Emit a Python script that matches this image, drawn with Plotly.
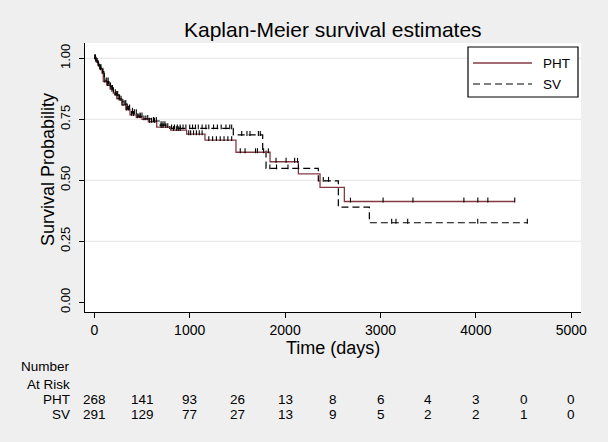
import plotly.graph_objects as go

# ---------------- data ----------------
pht_time = [0, 20, 40, 60, 80, 94, 130, 165, 199, 235, 287, 330, 374, 440, 500, 566,
            654, 800, 968, 1160, 1485, 1842, 2139, 2366, 2621, 4407]
pht_surv = [1.0, 0.985, 0.97, 0.955, 0.94, 0.905, 0.89, 0.875, 0.857, 0.835, 0.809, 0.79,
            0.768, 0.758, 0.75, 0.74, 0.718, 0.706, 0.689, 0.665, 0.615, 0.576, 0.526,
            0.471, 0.413, 0.413]
pht_censor = [5, 12, 30, 45, 65, 88, 110, 140, 155, 175, 190, 220, 250, 265, 300, 340, 360,
              390, 410, 450, 480, 520, 540, 580, 600, 630, 700, 720, 750, 770, 830, 860,
              880, 900, 990, 1010, 1040, 1070, 1100, 1130, 1200, 1240, 1280, 1320, 1360,
              1400, 1440, 1530, 1580, 1690, 1710, 1775, 1824, 1905, 2010, 2100, 2130,
              2685, 3027, 3340, 3874, 4020, 4125, 4407]

sv_time = [0, 15, 35, 55, 75, 100, 120, 150, 185, 215, 260, 300, 345, 400, 460, 520, 600,
           680, 790, 1457, 1765, 1800, 2348, 2558, 2883, 4539]
sv_surv = [1.0, 0.99, 0.975, 0.96, 0.945, 0.925, 0.905, 0.885, 0.865, 0.85, 0.83, 0.812,
           0.795, 0.775, 0.762, 0.752, 0.743, 0.726, 0.713, 0.686, 0.62, 0.549, 0.498,
           0.39, 0.326, 0.326]
sv_censor = [8, 18, 40, 60, 70, 90, 105, 130, 145, 170, 200, 230, 245, 280, 320, 330, 370,
             420, 440, 480, 500, 560, 620, 650, 700, 720, 740, 810, 840, 870, 900, 930,
             960, 1000, 1030, 1060, 1090, 1130, 1170, 1200, 1250, 1290, 1330, 1380, 1420,
             1440, 1545, 1600, 1632, 1720, 1740, 1840, 1910, 2030, 2140, 2400, 2455,
             3117, 3162, 3285, 4019, 4539]

risk_times = [0, 500, 1000, 1500, 2000, 2500, 3000, 3500, 4000, 4500, 5000]
risk_pht = [268, 141, 93, 26, 13, 8, 6, 4, 3, 0, 0]
risk_sv = [291, 129, 77, 27, 13, 9, 5, 2, 2, 1, 0]

x_ticks = [0, 1000, 2000, 3000, 4000, 5000]
y_ticks = [0.0, 0.25, 0.5, 0.75, 1.0]
y_ticklabels = ["0.00", "0.25", "0.50", "0.75", "1.00"]
grid_vals = [0.25, 0.5, 0.75, 1.0]

# ---------------- styling ----------------
FONT = "Liberation Sans, Arial, sans-serif"
PHT_COLOR = "#843a44"
BG = "#efefef"
W, H = 608, 442
ML, MR, MT, MB = 85, 27, 43, 130
PW, PH = W - ML - MR, H - MT - MB


def surv_at(times, surv, t):
    val = surv[0]
    for ti, si in zip(times, surv):
        if ti <= t:
            val = si
        else:
            break
    return val


def censor_segments(times, surv, cens):
    xs, ys = [], []
    for c in cens:
        s = surv_at(times, surv, c)
        xs += [c, c, None]
        ys += [s - 0.004, s + 0.016, None]
    return xs, ys


def py(px):  # pixel y -> paper y
    return (H - MB - px) / PH


def pxx(px):  # pixel x -> paper x
    return (px - ML) / PW


fig = go.Figure()
fig.add_trace(go.Scatter(x=sv_time, y=sv_surv, mode="lines", line_shape="hv",
                         line=dict(color="black", width=1.2, dash="7px,4px"),
                         name="SV", hoverinfo="skip"))
fig.add_trace(go.Scatter(x=pht_time, y=pht_surv, mode="lines", line_shape="hv",
                         line=dict(color=PHT_COLOR, width=1.3), name="PHT", hoverinfo="skip"))
for times, surv, cens in [(pht_time, pht_surv, pht_censor), (sv_time, sv_surv, sv_censor)]:
    cx, cy = censor_segments(times, surv, cens)
    fig.add_trace(go.Scatter(x=cx, y=cy, mode="lines", line=dict(color="black", width=1.1),
                             showlegend=False, hoverinfo="skip"))

shapes = []
for g in grid_vals:
    shapes.append(dict(type="line", xref="paper", x0=0, x1=1, yref="y", y0=g, y1=g,
                       line=dict(color="#e4e4e4", width=1), layer="below"))
# legend box
shapes.append(dict(type="rect", xref="paper", yref="paper", x0=pxx(468), x1=pxx(578),
                   y0=py(97), y1=py(47), line=dict(color="black", width=1.2),
                   fillcolor="white"))
shapes.append(dict(type="line", xref="paper", yref="paper", x0=pxx(473), x1=pxx(532),
                   y0=py(63), y1=py(63), line=dict(color=PHT_COLOR, width=1.3)))
shapes.append(dict(type="line", xref="paper", yref="paper", x0=pxx(473), x1=pxx(532),
                   y0=py(84), y1=py(84), line=dict(color="black", width=1.2, dash="7px,4px")))

ann = []
ann.append(dict(text="PHT", xref="paper", yref="paper", x=pxx(541), y=py(63),
                xanchor="left", yanchor="middle", showarrow=False,
                font=dict(size=13.5, color="black", family=FONT)))
ann.append(dict(text="SV", xref="paper", yref="paper", x=pxx(541), y=py(84),
                xanchor="left", yanchor="middle", showarrow=False,
                font=dict(size=13.5, color="black", family=FONT)))
# titles
ann.append(dict(text="Kaplan-Meier survival estimates", xref="paper", yref="paper",
                x=0.5, y=py(29), xanchor="center", yanchor="middle", showarrow=False,
                font=dict(size=21, color="black", family=FONT)))
ann.append(dict(text="Time (days)", xref="paper", yref="paper", x=0.5, y=py(348),
                xanchor="center", yanchor="middle", showarrow=False,
                font=dict(size=18, color="black", family=FONT)))
ann.append(dict(text="Survival Probability", xref="paper", yref="paper", x=pxx(48),
                y=py(170), xanchor="center", yanchor="middle", textangle=-90, showarrow=False,
                font=dict(size=18, color="black", family=FONT)))
# risk table
for lab, ypix in [("Number", 367), ("At Risk", 384), ("PHT", 399.5), ("SV", 414.5)]:
    ann.append(dict(text=lab, xref="paper", yref="paper", x=pxx(72), y=py(ypix),
                    xanchor="right", yanchor="middle", showarrow=False,
                    font=dict(size=13.5, color="black", family=FONT)))
for vals, ypix in [(risk_pht, 399.5), (risk_sv, 414.5)]:
    for t, v in zip(risk_times, vals):
        ann.append(dict(text=str(v), xref="x", yref="paper", x=t, y=py(ypix),
                        xanchor="center", yanchor="middle", showarrow=False,
                        font=dict(size=13.5, color="black", family=FONT)))

fig.update_layout(
    width=W, height=H, margin=dict(l=ML, r=MR, t=MT, b=MB),
    paper_bgcolor=BG, plot_bgcolor="white", showlegend=False,
    font=dict(family=FONT, color="black", size=14),
    shapes=shapes, annotations=ann,
    xaxis=dict(range=[-97.5, 5101.5], tickvals=x_ticks, ticks="outside", ticklen=5,
               tickwidth=1, tickcolor="black", showline=True, linecolor="black",
               linewidth=1.2, showgrid=False, zeroline=False,
               tickfont=dict(size=14, family=FONT, color="black")),
    yaxis=dict(range=[-0.0398, 1.0627], tickvals=y_ticks, ticktext=y_ticklabels,
               tickangle=-90, ticks="outside", ticklen=5, tickwidth=1, tickcolor="black",
               showline=True, linecolor="black", linewidth=1.2, showgrid=False,
               zeroline=False, ticklabelstandoff=4,
               tickfont=dict(size=13, family=FONT, color="black")),
)

fig.write_html(
    "out.html",
    config={"displayModeBar": False},
    post_script="document.body.style.margin='0';document.body.style.background='%s';" % BG,
)
